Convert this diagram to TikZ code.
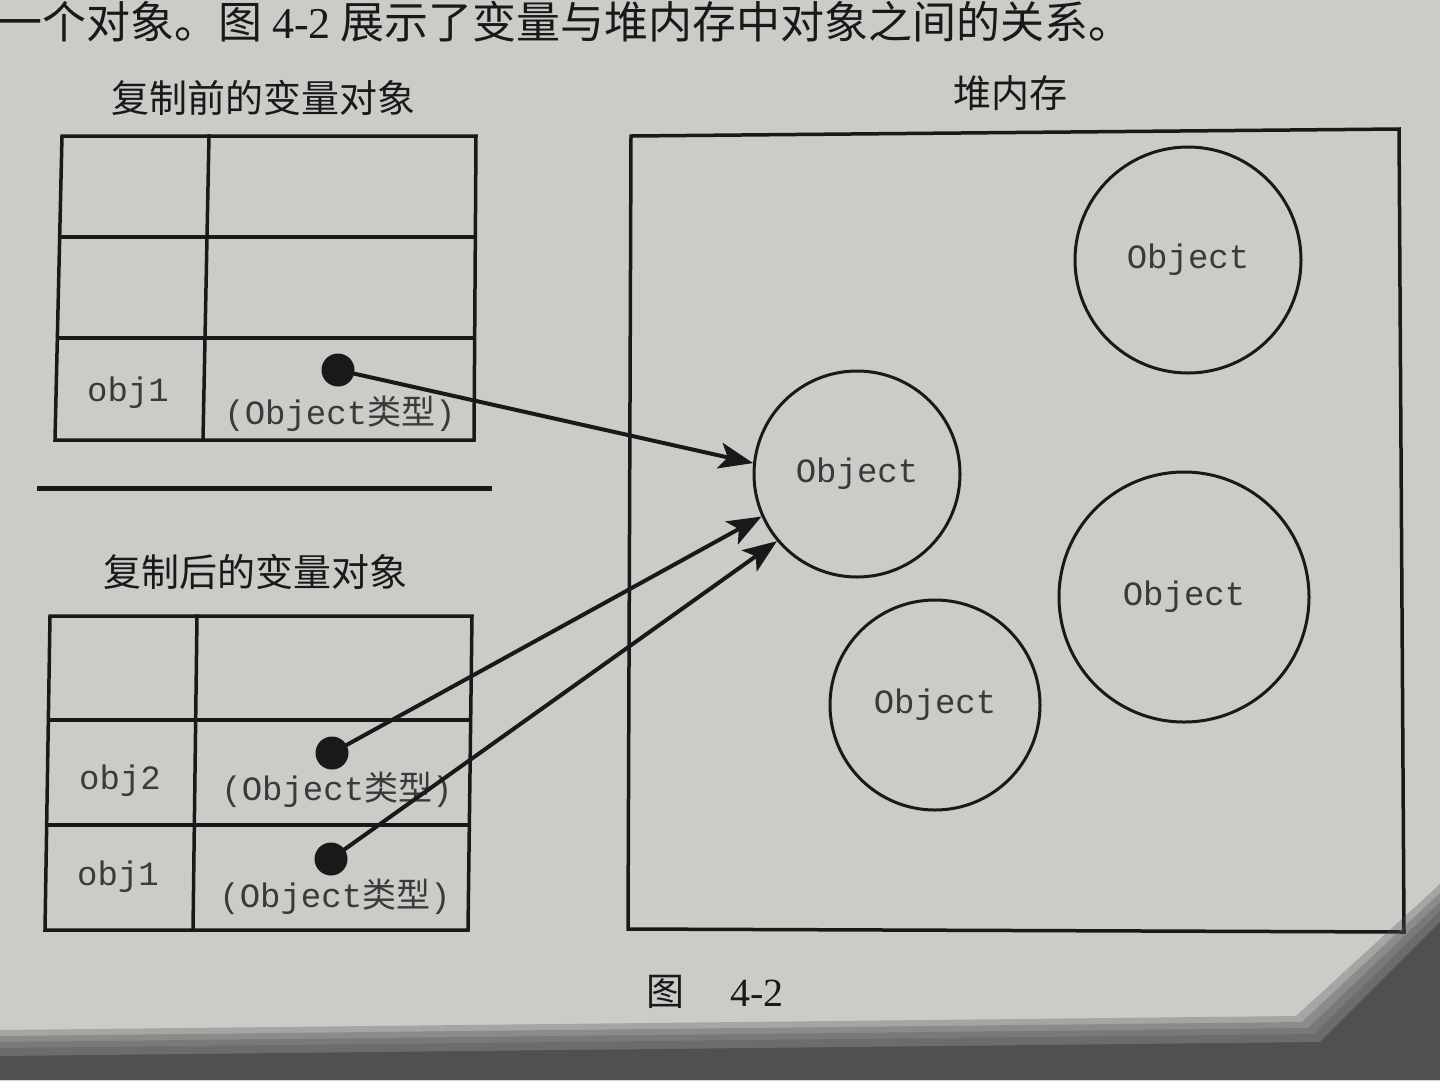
\documentclass[tikz,border=0pt]{standalone}
\usepackage{fontspec}
\setmainfont{Liberation Serif}
\newfontfamily\cjk{Noto Sans CJK SC}
\newfontfamily\monof{Liberation Mono}
\usetikzlibrary{arrows.meta}
\definecolor{paper}{RGB}{203,203,200}
\definecolor{ink}{RGB}{25,25,25}
\definecolor{txt}{RGB}{58,58,58}
\definecolor{shadowc}{RGB}{80,80,80}
\begin{document}
\begin{tikzpicture}[x=1pt,y=-1pt,
  tbl/.style={draw=ink,line width=3.5pt,line join=miter,line cap=rect},
  heapbox/.style={draw=ink,line width=3.5pt,line join=miter},
  obj/.style={circle,draw=ink,line width=3pt,inner sep=0pt,text=txt,font=\monof\fontsize{34}{40}\selectfont},
  dotnode/.style={circle,fill=ink,inner sep=0pt,minimum size=33pt},
  lbl/.style={text=txt,font=\monof\fontsize{34}{40}\selectfont,inner sep=0pt},
  title/.style={text=ink,font=\cjk\fontsize{38}{44}\selectfont,inner sep=0pt},
  ptr/.style={draw=ink,line width=4pt,-{Stealth[length=34pt,width=26pt,inset=8pt]}},
  shadowband/.style={fill=shadowc,fill opacity=0.3},
]
\useasboundingbox (0,0) rectangle (1440,1080);
\clip (0,0) rectangle (1440,1080);
\fill[paper] (0,0) rectangle (1440,1080);

% page text above the figure
\node[anchor=north west,inner sep=0pt,text=ink,font=\cjk\fontsize{44}{50}\selectfont] (intro) at (-2,1)
  {一个对象。图 {\rmfamily 4-2} 展示了变量与堆内存中对象之间的关系。};

% titles
\node[title] (t1title) at (263,98) {复制前的变量对象};
\node[title] (t2title) at (255,572) {复制后的变量对象};
\node[title] (heaptitle) at (1010,93) {堆内存};

% table 1 (before copy)
\coordinate (a1) at (62,136);  \coordinate (b1) at (476,136);
\coordinate (c1) at (474,440); \coordinate (d1) at (55,440);
\coordinate (m1t) at (209,136); \coordinate (m1b) at (203,440);
\coordinate (r1l) at (59.7,237); \coordinate (r1r) at (475.3,237);
\coordinate (r2l) at (57.4,338); \coordinate (r2r) at (474.7,338);
\draw[tbl] (a1) -- (b1) -- (c1) -- (d1) -- cycle;
\draw[tbl] (m1t) -- (m1b);
\draw[tbl] (r1l) -- (r1r);
\draw[tbl] (r2l) -- (r2r);
\node[lbl] (v1) at (128,393) {obj1};
\node[lbl] (ty1) at (340,414) {(Object{\cjk 类型})};
\node[dotnode] (p1) at (338,370) {};

% separator
\coordinate (s1) at (37,488); \coordinate (s2) at (492,488);
\draw[ink,line width=5pt] (s1) -- (s2);

% table 2 (after copy)
\coordinate (a2) at (50,616);  \coordinate (b2) at (472,616);
\coordinate (c2) at (468,930); \coordinate (d2) at (45,930);
\coordinate (m2t) at (197,616); \coordinate (m2b) at (193,930);
\coordinate (q1l) at (48.3,720); \coordinate (q1r) at (470.7,720);
\coordinate (q2l) at (46.7,825); \coordinate (q2r) at (469.3,825);
\draw[tbl] (a2) -- (b2) -- (c2) -- (d2) -- cycle;
\draw[tbl] (m2t) -- (m2b);
\draw[tbl] (q1l) -- (q1r);
\draw[tbl] (q2l) -- (q2r);
\node[lbl] (v2) at (120,781) {obj2};
\node[lbl] (ty2) at (337,790) {(Object{\cjk 类型})};
\node[lbl] (v3) at (118,877) {obj1};
\node[lbl] (ty3) at (335,897) {(Object{\cjk 类型})};
\node[dotnode] (p2) at (332,753) {};
\node[dotnode] (p3) at (331,859) {};

% heap
\coordinate (ha) at (631,136); \coordinate (hb) at (1399,129);
\coordinate (hc) at (1404,932); \coordinate (hd) at (628,929);
\draw[heapbox] (ha) -- (hb) -- (hc) -- (hd) -- cycle;
\node[obj,minimum size=226pt] (h1) at (1188,260) {Object};
\node[obj,minimum size=206pt] (h2) at (857,474) {Object};
\node[obj,minimum size=250pt] (h3) at (1184,597) {Object};
\node[obj,minimum size=210pt] (h4) at (935,705) {Object};

% pointers
\draw[ptr] (p1.center) -- (h2.174);
\draw[ptr] (p2.center) -- (h2.204);
\draw[ptr] (p3.center) -- (h2.220);

% caption
\node[title] (figc) at (665,992) {图};
\node[inner sep=0pt,text=ink,font=\rmfamily\fontsize{40}{46}\selectfont] (fign) at (757,993) {4-2};

% photo shadow at the bottom (soft edge)
\fill[shadowband] (0,1030) -- (1296,1016) -- (1440,884) -- (1440,1080) -- (0,1080) -- cycle;
\fill[shadowband] (0,1036) -- (1302,1022) -- (1440,893) -- (1440,1080) -- (0,1080) -- cycle;
\fill[shadowband] (0,1042) -- (1308,1028) -- (1440,902) -- (1440,1080) -- (0,1080) -- cycle;
\fill[shadowband] (0,1048) -- (1314,1034) -- (1440,911) -- (1440,1080) -- (0,1080) -- cycle;
\fill[shadowc] (0,1056) -- (1320,1042) -- (1440,922) -- (1440,1080) -- (0,1080) -- cycle;
\end{tikzpicture}
\end{document}
